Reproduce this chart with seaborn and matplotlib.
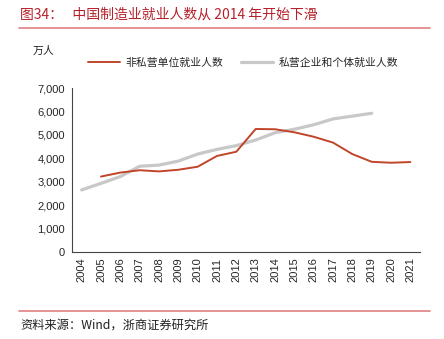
import matplotlib
matplotlib.use("Agg")
import matplotlib.pyplot as plt
import seaborn as sns
import pandas as pd
import numpy as np

years = [str(y) for y in range(2004, 2022)]
non_private = [np.nan, 3220, 3390, 3490, 3440, 3510, 3640, 4100, 4280, 5250, 5240,
               5110, 4920, 4670, 4180, 3850, 3810, 3840]
private = [2650, 2930, 3220, 3660, 3710, 3880, 4180, 4380, 4540, 4780, 5090,
           5240, 5430, 5680, 5800, 5920, np.nan, np.nan]
series_names = ["非私营单位就业人数", "私营企业和个体就业人数"]
yticks = [0, 1000, 2000, 3000, 4000, 5000, 6000, 7000]

sns.set_theme(style="white")
plt.rcParams['font.family'] = ['Noto Sans CJK SC', 'DejaVu Sans']

df = pd.DataFrame({"year": years, series_names[0]: non_private, series_names[1]: private})
long = df.melt(id_vars="year", var_name="series", value_name="value")

fig = plt.figure(figsize=(4.44, 3.39), dpi=100)
ax = fig.add_axes([72/444, 87/339, 348/444, 164/339])
x = np.arange(len(years))
long["x"] = long["year"].map({y: i for i, y in enumerate(years)})
sns.lineplot(data=long, x="x", y="value", hue="series", hue_order=series_names,
             palette=["#C0452A", "#C8C8C8"], ax=ax, legend=False, sort=False)
lines = ax.get_lines()
lines[0].set_linewidth(1.4)
lines[1].set_linewidth(2.3)
lines[0].set_zorder(3)

ax.set_xlim(-0.5, len(years) - 0.5)
ax.set_ylim(0, 7000)
ax.set_yticks(yticks)
ax.set_yticklabels([f"{v:,}" for v in yticks], fontsize=8, family=['Liberation Sans', 'DejaVu Sans'])
ax.set_xticks(x)
ax.set_xticklabels(years, rotation=90, fontsize=8, family=['Liberation Sans', 'DejaVu Sans'])
ax.set_xticks(np.arange(-0.5, len(years)), minor=True)
ax.tick_params(axis='x', which='major', length=0, pad=4)
ax.tick_params(axis='x', which='minor', length=3, color='#444444', width=0.8, direction='out')
ax.tick_params(axis='y', length=3, color='#444444', width=0.8, direction='out', pad=2)
ax.set_xlabel("")
ax.set_ylabel("")
for s in ["top", "right"]:
    ax.spines[s].set_visible(False)
for s in ["left", "bottom"]:
    ax.spines[s].set_color("#444444")
    ax.spines[s].set_linewidth(0.8)

# legend
from matplotlib.lines import Line2D
handles = [Line2D([], [], color="#C0452A", lw=1.4), Line2D([], [], color="#C8C8C8", lw=2.3)]
fig.legend(handles, series_names, loc="center", bbox_to_anchor=(243/444, 1 - 63/339), ncol=2,
           frameon=False, fontsize=7.8, handlelength=3.0, columnspacing=1.6, handletextpad=0.5)

fig.text(20/444, 1 - 15/339, "图34：   中国制造业就业人数从 2014 年开始下滑", color="#B5202A",
         fontsize=10, va="center", ha="left")
fig.add_artist(Line2D([19/444, 430/444], [1 - 28/339, 1 - 28/339], color="#E08080", lw=1.2))
fig.text(33/444, 1 - 51/339, "万人", fontsize=7.8, va="center", ha="left", color="#222222")
fig.add_artist(Line2D([19/444, 430/444], [1 - 311/339, 1 - 311/339], color="#E08080", lw=1.2))
fig.text(20/444, 1 - 325/339, "资料来源：Wind，浙商证券研究所", fontsize=8.8, va="center", ha="left",
         color="#222222")

fig.savefig("out.png", dpi=100)
